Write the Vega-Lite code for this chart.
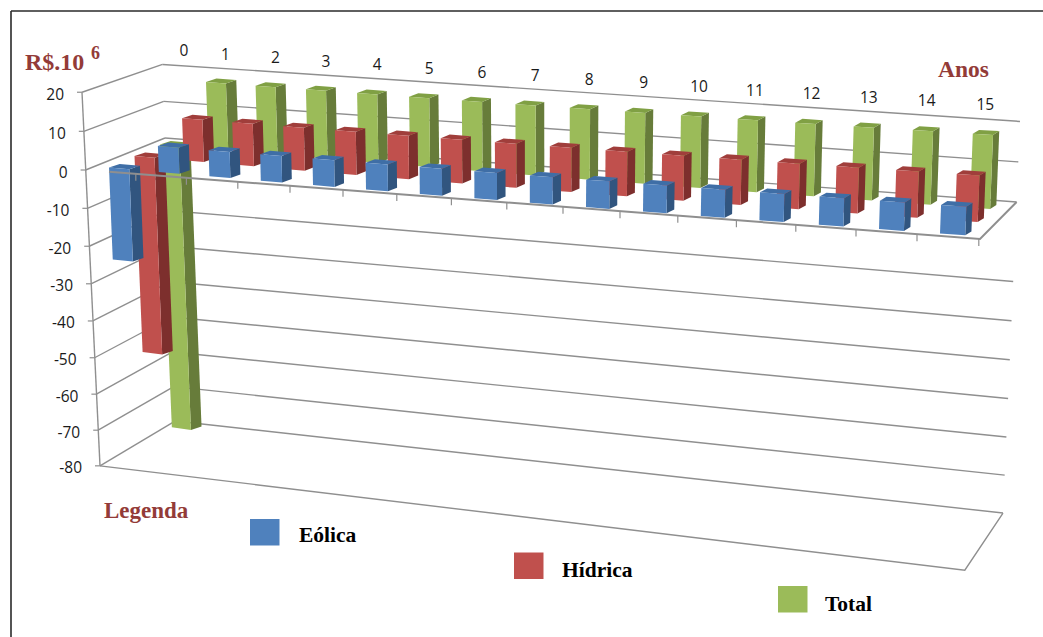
{
  "$schema": "https://vega.github.io/schema/vega-lite/v6.json",
  "width": 1043,
  "height": 637,
  "padding": 0,
  "autosize": {"type": "none"},
  "background": "white",
  "config": {"view": {"stroke": null}},
  "datasets": {
    "bars": [
      {"year":0,"series":"Total","value":-79},{"year":1,"series":"Total","value":18.5},{"year":2,"series":"Total","value":18.5},{"year":3,"series":"Total","value":18.5},{"year":4,"series":"Total","value":18.5},{"year":5,"series":"Total","value":18.5},{"year":6,"series":"Total","value":18.5},{"year":7,"series":"Total","value":18.5},{"year":8,"series":"Total","value":18.5},{"year":9,"series":"Total","value":18.5},{"year":10,"series":"Total","value":18.5},{"year":11,"series":"Total","value":18.5},{"year":12,"series":"Total","value":18.5},{"year":13,"series":"Total","value":18.5},{"year":14,"series":"Total","value":18.5},{"year":15,"series":"Total","value":18.5},
      {"year":0,"series":"Hídrica","value":-54},{"year":1,"series":"Hídrica","value":11.5},{"year":2,"series":"Hídrica","value":11.5},{"year":3,"series":"Hídrica","value":11.5},{"year":4,"series":"Hídrica","value":11.5},{"year":5,"series":"Hídrica","value":11.5},{"year":6,"series":"Hídrica","value":11.5},{"year":7,"series":"Hídrica","value":11.5},{"year":8,"series":"Hídrica","value":11.5},{"year":9,"series":"Hídrica","value":11.5},{"year":10,"series":"Hídrica","value":11.5},{"year":11,"series":"Hídrica","value":11.5},{"year":12,"series":"Hídrica","value":11.5},{"year":13,"series":"Hídrica","value":11.5},{"year":14,"series":"Hídrica","value":11.5},{"year":15,"series":"Hídrica","value":11.5},
      {"year":0,"series":"Eólica","value":-25},{"year":1,"series":"Eólica","value":7},{"year":2,"series":"Eólica","value":7},{"year":3,"series":"Eólica","value":7},{"year":4,"series":"Eólica","value":7},{"year":5,"series":"Eólica","value":7},{"year":6,"series":"Eólica","value":7},{"year":7,"series":"Eólica","value":7},{"year":8,"series":"Eólica","value":7},{"year":9,"series":"Eólica","value":7},{"year":10,"series":"Eólica","value":7},{"year":11,"series":"Eólica","value":7},{"year":12,"series":"Eólica","value":7},{"year":13,"series":"Eólica","value":7},{"year":14,"series":"Eólica","value":7},{"year":15,"series":"Eólica","value":7}
    ],
    "levels": [{"v":20},{"v":10},{"v":0},{"v":-10},{"v":-20},{"v":-30},{"v":-40},{"v":-50},{"v":-60},{"v":-70},{"v":-80}],
    "years": [{"k":0},{"k":1},{"k":2},{"k":3},{"k":4},{"k":5},{"k":6},{"k":7},{"k":8},{"k":9},{"k":10},{"k":11},{"k":12},{"k":13},{"k":14},{"k":15}],
    "legend": [{"i":0,"name":"Eólica"},{"i":1,"name":"Hídrica"},{"i":2,"name":"Total"}]
  },
  "encoding": {
    "x": {"field": "sx", "type": "quantitative", "scale": {"domain": [0, 1043], "nice": false, "zero": false}, "axis": null},
    "y": {"field": "sy", "type": "quantitative", "scale": {"domain": [637, 0], "nice": false, "zero": false}, "axis": null}
  },
  "layer": [
    {
      "description": "Side wall gridlines",
      "data": {"name": "levels"},
      "transform": [
        {"calculate": "85.6-0.18*datum.v", "as": "sx"},
        {"calculate": "170-3.85*datum.v-0.0019*datum.v*datum.v", "as": "sy"},
        {"calculate": "165-0.125*datum.v", "as": "ex"},
        {"calculate": "138-3.65*datum.v-0.0014*datum.v*datum.v", "as": "ey"}
      ],
      "mark": {"type": "rule", "stroke": "#8f8f8f", "strokeWidth": 1.4},
      "encoding": {"x2": {"field": "ex"}, "y2": {"field": "ey"}}
    },
    {
      "description": "Back wall gridlines",
      "data": {"name": "levels"},
      "transform": [
        {"filter": "datum.v !== -10"},
        {"calculate": "165-0.125*datum.v", "as": "sx"},
        {"calculate": "138-3.65*datum.v-0.0014*datum.v*datum.v", "as": "sy"},
        {"calculate": "1016.6+0.17*datum.v", "as": "ex"},
        {"calculate": "202-4*datum.v-0.0014*datum.v*datum.v", "as": "ey"}
      ],
      "mark": {"type": "rule", "stroke": "#8f8f8f", "strokeWidth": 1.4},
      "encoding": {"x2": {"field": "ex"}, "y2": {"field": "ey"}}
    },
    {
      "description": "Value axis line",
      "data": {"values": [{"top": 20, "bottom": -80}]},
      "transform": [
        {"calculate": "85.6-0.18*datum.top", "as": "sx"},
        {"calculate": "170-3.85*datum.top-0.0019*datum.top*datum.top", "as": "sy"},
        {"calculate": "85.6-0.18*datum.bottom", "as": "ex"},
        {"calculate": "170-3.85*datum.bottom-0.0019*datum.bottom*datum.bottom", "as": "ey"}
      ],
      "mark": {"type": "rule", "stroke": "#8f8f8f", "strokeWidth": 1.4},
      "encoding": {"x2": {"field": "ex"}, "y2": {"field": "ey"}}
    },
    {
      "description": "Value axis ticks",
      "data": {"name": "levels"},
      "transform": [
        {"calculate": "85.6-0.18*datum.v", "as": "ex"},
        {"calculate": "170-3.85*datum.v-0.0019*datum.v*datum.v", "as": "sy"},
        {"calculate": "datum.ex-5", "as": "sx"}
      ],
      "mark": {"type": "rule", "stroke": "#8f8f8f", "strokeWidth": 1.2},
      "encoding": {"x2": {"field": "ex"}}
    },
    {
      "description": "Floor outline at the -80 level",
      "data": {"values": [{"v": -80, "p": 0}, {"v": -80, "p": 1}, {"v": -80, "p": 2}]},
      "transform": [
        {"calculate": "datum.p===0 ? 85.6-0.18*datum.v : datum.p===1 ? 980+0.19*datum.v : 1016.6+0.17*datum.v", "as": "sx"},
        {"calculate": "datum.p===0 ? 170-3.85*datum.v-0.0019*datum.v*datum.v : datum.p===1 ? 239-4.14*datum.v : 202-4*datum.v-0.0014*datum.v*datum.v", "as": "sy"}
      ],
      "mark": {"type": "line", "stroke": "#8f8f8f", "strokeWidth": 1.4},
      "encoding": {"order": {"field": "p"}}
    },
    {
      "description": "Bars: each row opens into three faces, painted back to front in row order",
      "data": {"name": "bars"},
      "transform": [
        {"calculate": "datum.series==='Total' ? 2 : datum.series==='Hídrica' ? 1 : 0", "as": "s"},
        {"calculate": "max(datum.value,0)", "as": "hi"},
        {"calculate": "min(datum.value,0)", "as": "lo"},
        {"calculate": "['side','top','front']", "as": "face"},
        {"flatten": ["face"]},
        {"calculate": "[0,1,2,3]", "as": "corner"},
        {"flatten": ["corner"]},
        {"calculate": "(datum.corner===1||datum.corner===2) ? 1 : 0", "as": "a"},
        {"calculate": "(datum.corner===2||datum.corner===3) ? 1 : 0", "as": "b"},
        {"calculate": "0.41-0.0025*datum.year*datum.s", "as": "barWidth"},
        {"calculate": "datum.year+datum.barWidth*(datum.face==='side' ? 1 : datum.a)", "as": "K"},
        {"calculate": "datum.face==='front' ? 0 : datum.face==='side' ? datum.a : datum.b", "as": "depth"},
        {"calculate": "(datum.face==='top'||datum.b===0) ? datum.hi : datum.lo", "as": "V"},
        {"calculate": "109+49.4*datum.K+0.4*datum.K*datum.K+(datum.s+0.42*datum.depth)*(25.5-0.7*datum.K)-datum.V*(0.15-0.02*datum.K)", "as": "sx"},
        {"calculate": "167.5+4.4*datum.K+(datum.s+0.3*datum.depth)*(-11.5-0.1*datum.K)-datum.V*(3.68+0.027*datum.K-0.05*datum.s)", "as": "sy"},
        {"calculate": "datum.series+' '+datum.face", "as": "shade"},
        {"calculate": "datum.series+datum.year+datum.face", "as": "barFace"}
      ],
      "mark": {"type": "line", "interpolate": "linear-closed", "strokeWidth": 0, "filled": true},
      "encoding": {
        "detail": {"field": "barFace"},
        "order": {"field": "corner"},
        "fill": {
          "field": "shade",
          "legend": null,
          "scale": {
            "domain": ["Eólica front", "Eólica side", "Eólica top", "Hídrica front", "Hídrica side", "Hídrica top", "Total front", "Total side", "Total top"],
            "range": ["#4f81bd", "#31557f", "#3f6ea6", "#c0504d", "#7d2f2d", "#a03e3b", "#9bbb59", "#677c3a", "#80a044"]
          }
        }
      }
    },
    {
      "description": "Zero plane, front and right edges",
      "data": {"values": [{"p": 0}, {"p": 1}, {"p": 2}]},
      "transform": [
        {"calculate": "datum.p===0 ? 109 : datum.p===1 ? 980 : 1016.6", "as": "sx"},
        {"calculate": "datum.p===0 ? 171.8 : datum.p===1 ? 239 : 202", "as": "sy"}
      ],
      "mark": {"type": "line", "stroke": "#8f8f8f", "strokeWidth": 2},
      "encoding": {"order": {"field": "p"}}
    },
    {
      "description": "Category ticks under the zero plane",
      "data": {"values": [{"k":1},{"k":2},{"k":3},{"k":4},{"k":5},{"k":6},{"k":7},{"k":8},{"k":9},{"k":10},{"k":11},{"k":12},{"k":13},{"k":14},{"k":15},{"k":16}]},
      "transform": [
        {"calculate": "86+49.4*datum.k+0.4*datum.k*datum.k", "as": "sx"},
        {"calculate": "170+(datum.sx-85.6)*69/894", "as": "sy"},
        {"calculate": "datum.sy+7", "as": "ey"}
      ],
      "mark": {"type": "rule", "stroke": "#8f8f8f", "strokeWidth": 1.2},
      "encoding": {"y2": {"field": "ey"}}
    },
    {
      "description": "Value labels, written with a plain hyphen",
      "data": {"name": "levels"},
      "transform": [
        {"calculate": "85.6-0.18*datum.v-18", "as": "sx"},
        {"calculate": "170-3.85*datum.v-0.0019*datum.v*datum.v+2.5", "as": "sy"},
        {"calculate": "'' + datum.v", "as": "label"}
      ],
      "mark": {"type": "text", "align": "right", "baseline": "middle", "font": "Open Sans", "fontSize": 15.5, "fill": "#1a1a1a"},
      "encoding": {"text": {"field": "label"}}
    },
    {
      "description": "Year labels",
      "data": {"name": "years"},
      "transform": [
        {"calculate": "max(184,176+49*datum.k+0.33*datum.k*datum.k)", "as": "sx"},
        {"calculate": "51+3.6*datum.k", "as": "sy"}
      ],
      "mark": {"type": "text", "align": "center", "baseline": "middle", "font": "Open Sans", "fontSize": 15.5, "fill": "#1a1a1a"},
      "encoding": {"text": {"field": "k", "type": "quantitative", "format": "d"}}
    },
    {
      "description": "Legend swatches, coloured from the bars' front faces",
      "data": {"name": "legend"},
      "transform": [
        {"calculate": "250+264*datum.i", "as": "sx"},
        {"calculate": "519+33.5*datum.i", "as": "sy"},
        {"calculate": "datum.sx+29.5", "as": "ex"},
        {"calculate": "datum.sy+26.5", "as": "ey"},
        {"calculate": "datum.name+' front'", "as": "shade"}
      ],
      "mark": {"type": "rect"},
      "encoding": {
        "x2": {"field": "ex"},
        "y2": {"field": "ey"},
        "fill": {"field": "shade", "legend": null}
      }
    },
    {
      "description": "Legend labels",
      "data": {"name": "legend"},
      "transform": [
        {"calculate": "299+263*datum.i", "as": "sx"},
        {"calculate": "542+34.5*datum.i", "as": "sy"}
      ],
      "mark": {"type": "text", "align": "left", "baseline": "alphabetic", "font": "Liberation Serif", "fontWeight": "bold", "fontSize": 21.5, "fill": "#000000"},
      "encoding": {"text": {"field": "name"}}
    },
    {
      "description": "Headings",
      "data": {"values": [
        {"label": "R$.10", "anchor": 25, "line": 70, "size": 24},
        {"label": "6", "anchor": 91, "line": 59, "size": 18},
        {"label": "Anos", "anchor": 938, "line": 77, "size": 23.5},
        {"label": "Legenda", "anchor": 104, "line": 518, "size": 23}
      ]},
      "transform": [
        {"calculate": "datum.anchor", "as": "sx"},
        {"calculate": "datum.line", "as": "sy"}
      ],
      "mark": {"type": "text", "align": "left", "baseline": "alphabetic", "font": "Liberation Serif", "fontWeight": "bold", "fill": "#933b38"},
      "encoding": {
        "text": {"field": "label"},
        "size": {"field": "size", "type": "quantitative", "scale": null, "legend": null}
      }
    },
    {
      "description": "Page frame",
      "data": {"values": [{"sx": 11, "sy": 11, "ex": 11, "ey": 637}, {"sx": 11, "sy": 11, "ex": 1043, "ey": 11}]},
      "mark": {"type": "rule", "stroke": "#2a2a2a", "strokeWidth": 1.6},
      "encoding": {"x2": {"field": "ex"}, "y2": {"field": "ey"}}
    }
  ]
}
